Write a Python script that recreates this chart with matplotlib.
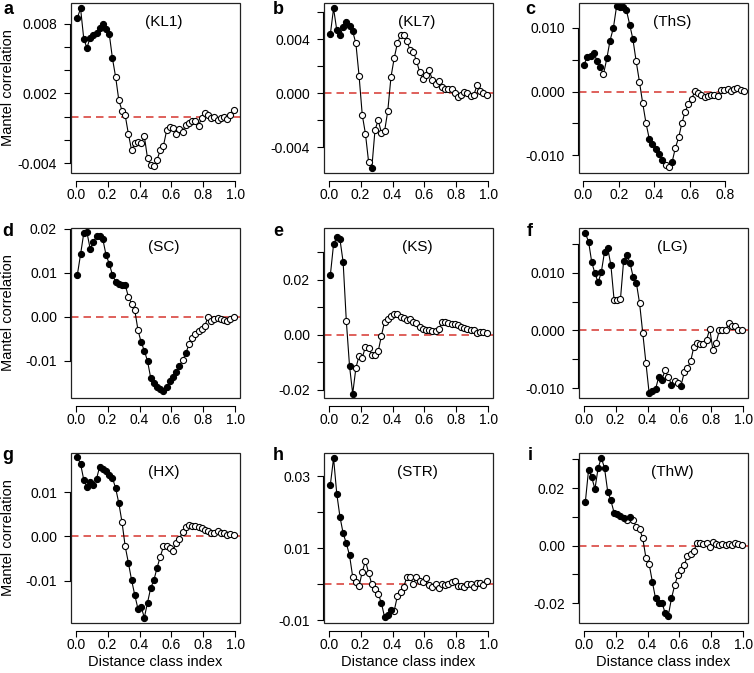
import matplotlib.pyplot as plt
from matplotlib.patches import Rectangle

plt.rcParams['font.family'] = ['Liberation Sans', 'DejaVu Sans']

# distance class index (50 classes)
DIST = [0.01, 0.03, 0.05, 0.07, 0.09, 0.11, 0.13, 0.15, 0.17, 0.19,
        0.21, 0.23, 0.25, 0.27, 0.29, 0.31, 0.33, 0.35, 0.37, 0.39,
        0.41, 0.43, 0.45, 0.47, 0.49, 0.51, 0.53, 0.55, 0.57, 0.59,
        0.61, 0.63, 0.65, 0.67, 0.69, 0.71, 0.73, 0.75, 0.77, 0.79,
        0.81, 0.83, 0.85, 0.87, 0.89, 0.91, 0.93, 0.95, 0.97, 0.99]

ths_x = [0.004, 0.022, 0.041, 0.059, 0.078, 0.096, 0.114, 0.133, 0.151, 0.170,
         0.188, 0.206, 0.225, 0.243, 0.262, 0.280, 0.298, 0.317, 0.335, 0.354,
         0.372, 0.390, 0.409, 0.427, 0.446, 0.464, 0.482, 0.501, 0.519, 0.538,
         0.556, 0.574, 0.593, 0.611, 0.630, 0.648, 0.666, 0.685, 0.703, 0.722,
         0.740, 0.758, 0.777, 0.795, 0.814, 0.832, 0.850, 0.869, 0.887, 0.906]

kl1 = [0.0085, 0.0093, 0.0067, 0.0059, 0.0068, 0.0070, 0.0072, 0.0076, 0.0080, 0.0075,
       0.0071, 0.0050, 0.0034, 0.0014, 0.0005, 0.0001, -0.0015, -0.0029, -0.0023, -0.0022,
       -0.0023, -0.0017, -0.0036, -0.0042, -0.0043, -0.0037, -0.0029, -0.0025, -0.0012, -0.0009,
       -0.0010, -0.0015, -0.0011, -0.0013, -0.0007, -0.0006, -0.0004, -0.0004, -0.0008, -0.0001,
       0.0003, 0.0001, -0.0001, 0.0000, -0.0003, -0.0001, 0.0000, -0.0002, 0.0001, 0.0006]
kl1_sig = [1, 1, 1, 1, 1, 1, 1, 1, 1, 1, 1, 1, 0, 0, 0, 0, 0, 0, 0, 0,
           0, 0, 0, 0, 0, 0, 0, 0, 0, 0, 0, 0, 0, 0, 0, 0, 0, 0, 0, 0,
           0, 0, 0, 0, 0, 0, 0, 0, 0, 0]

kl7 = [0.0044, 0.0063, 0.0047, 0.0043, 0.0049, 0.0053, 0.0050, 0.0046, 0.0037, 0.0013,
       -0.0016, -0.0030, -0.0051, -0.0055, -0.0027, -0.0020, -0.0029, -0.0028, -0.0013, 0.0012,
       0.0026, 0.0037, 0.0043, 0.0043, 0.0039, 0.0032, 0.0031, 0.0024, 0.0016, 0.0011,
       0.0014, 0.0017, 0.0010, 0.0007, 0.0009, 0.0005, 0.0003, 0.0003, 0.0003, 0.0000,
       -0.0003, -0.0001, 0.0001, 0.0000, -0.0002, -0.0001, 0.0006, 0.0002, 0.0000, -0.0001]
kl7_sig = [1, 1, 1, 1, 1, 1, 1, 1, 0, 0, 0, 0, 0, 1, 0, 0, 0, 0, 0, 0,
           0, 0, 0, 0, 0, 0, 0, 0, 0, 0, 0, 0, 0, 0, 0, 0, 0, 0, 0, 0,
           0, 0, 0, 0, 0, 0, 0, 0, 0, 0]

ths = [0.0042, 0.0054, 0.0056, 0.0061, 0.0048, 0.0038, 0.0027, 0.0052, 0.0080, 0.0100,
       0.0134, 0.0133, 0.0132, 0.0128, 0.0105, 0.0082, 0.0048, 0.0015, -0.0018, -0.0050,
       -0.0074, -0.0083, -0.0090, -0.0098, -0.0108, -0.0115, -0.0118, -0.0111, -0.0089, -0.0072,
       -0.0050, -0.0032, -0.0020, -0.0012, 0.0001, -0.0003, -0.0006, -0.0008, -0.0007, -0.0006,
       -0.0005, -0.0007, 0.0002, 0.0002, 0.0004, 0.0001, 0.0004, 0.0005, 0.0003, 0.0001]
ths_sig = [1, 1, 1, 1, 1, 1, 0, 1, 1, 1, 1, 1, 1, 1, 1, 1, 0, 0, 0, 0,
           1, 1, 1, 1, 1, 0, 0, 1, 0, 0, 0, 0, 0, 0, 0, 0, 0, 0, 0, 0,
           0, 0, 0, 0, 0, 0, 0, 0, 0, 0]

sc = [0.0096, 0.0142, 0.0190, 0.0192, 0.0155, 0.0170, 0.0183, 0.0183, 0.0176, 0.0140,
      0.0121, 0.0095, 0.0080, 0.0074, 0.0072, 0.0073, 0.0045, 0.0030, 0.0015, -0.0030,
      -0.0058, -0.0077, -0.0101, -0.0139, -0.0151, -0.0160, -0.0165, -0.0168, -0.0160, -0.0147,
      -0.0137, -0.0125, -0.0112, -0.0099, -0.0083, -0.0063, -0.0048, -0.0040, -0.0033, -0.0027,
      -0.0020, 0.0000, -0.0009, -0.0004, -0.0002, -0.0006, -0.0008, -0.0010, -0.0005, 0.0000]
sc_sig = [1, 1, 1, 1, 1, 1, 1, 1, 1, 1, 1, 1, 1, 1, 1, 1, 0, 0, 0, 0,
          1, 1, 1, 1, 1, 1, 1, 1, 1, 1, 1, 1, 1, 0, 1, 0, 0, 0, 0, 0,
          0, 0, 0, 0, 0, 0, 0, 0, 0, 0]

ks = [0.0218, 0.0330, 0.0355, 0.0348, 0.0265, 0.0050, -0.0113, -0.0215, -0.0121, -0.0077,
      -0.0084, -0.0044, -0.0050, -0.0072, -0.0075, -0.0060, -0.0004, 0.0048, 0.0058, 0.0068,
      0.0076, 0.0074, 0.0066, 0.0060, 0.0055, 0.0058, 0.0048, 0.0044, 0.0030, 0.0020,
      0.0017, 0.0016, 0.0013, 0.0012, 0.0020, 0.0046, 0.0045, 0.0043, 0.0040, 0.0038,
      0.0037, 0.0030, 0.0023, 0.0020, 0.0018, 0.0017, 0.0005, 0.0010, 0.0010, 0.0007]
ks_sig = [1, 1, 1, 1, 1, 0, 1, 1, 0, 0, 0, 0, 0, 0, 0, 0, 0, 0, 0, 0,
          0, 0, 0, 0, 0, 0, 0, 0, 0, 0, 0, 0, 0, 0, 0, 0, 0, 0, 0, 0,
          0, 0, 0, 0, 0, 0, 0, 0, 0, 0]

lg = [0.0168, 0.0154, 0.0118, 0.0099, 0.0083, 0.0101, 0.0136, 0.0143, 0.0113, 0.0053,
      0.0053, 0.0054, 0.0121, 0.0131, 0.0117, 0.0092, 0.0082, 0.0047, -0.0005, -0.0057,
      -0.0109, -0.0106, -0.0102, -0.0081, -0.0086, -0.0069, -0.0081, -0.0094, -0.0087, -0.0091,
      -0.0096, -0.0073, -0.0065, -0.0054, -0.0029, -0.0022, -0.0024, -0.0023, -0.0016, 0.0002,
      -0.0034, -0.0022, 0.0000, 0.0000, 0.0000, 0.0013, 0.0008, 0.0008, 0.0001, 0.0000]
lg_sig = [1, 1, 1, 1, 1, 1, 1, 1, 1, 0, 0, 0, 1, 1, 1, 1, 1, 0, 0, 0,
          1, 1, 1, 1, 1, 0, 0, 1, 0, 0, 1, 0, 0, 0, 0, 0, 0, 0, 0, 0,
          0, 0, 0, 0, 0, 0, 0, 0, 0, 0]

hx = [0.0179, 0.0164, 0.0128, 0.0111, 0.0124, 0.0117, 0.0130, 0.0158, 0.0152, 0.0147,
      0.0139, 0.0132, 0.0109, 0.0075, 0.0032, -0.0023, -0.0060, -0.0099, -0.0133, -0.0164,
      -0.0160, -0.0184, -0.0150, -0.0117, -0.0099, -0.0071, -0.0046, -0.0023, -0.0022, -0.0027,
      -0.0033, -0.0014, -0.0005, 0.0009, 0.0020, 0.0026, 0.0024, 0.0024, 0.0022, 0.0018,
      0.0014, 0.0012, 0.0008, 0.0007, 0.0011, 0.0007, 0.0008, 0.0003, 0.0005, 0.0002]
hx_sig = [1, 1, 1, 1, 1, 1, 1, 1, 1, 1, 1, 1, 1, 1, 0, 0, 1, 1, 1, 1,
          1, 1, 1, 1, 1, 1, 0, 0, 0, 0, 0, 0, 0, 0, 0, 0, 0, 0, 0, 0,
          0, 0, 0, 0, 0, 0, 0, 0, 0, 0]

strr = [0.0277, 0.0351, 0.0252, 0.0188, 0.0142, 0.0114, 0.0081, 0.0021, 0.0007, -0.0005,
        0.0035, 0.0065, 0.0032, 0.0000, -0.0013, -0.0026, -0.0052, -0.0091, -0.0086, -0.0070,
        -0.0074, -0.0033, -0.0021, -0.0007, 0.0021, 0.0021, 0.0002, 0.0021, 0.0009, 0.0007,
        0.0019, -0.0002, -0.0007, 0.0000, -0.0009, 0.0000, -0.0002, 0.0002, 0.0007, 0.0010,
        -0.0004, -0.0004, -0.0007, 0.0000, 0.0000, -0.0007, 0.0004, 0.0004, -0.0002, 0.0010]
strr_sig = [1, 1, 1, 1, 1, 1, 1, 0, 0, 0, 0, 0, 0, 0, 0, 0, 1, 1, 1, 1,
            0, 0, 0, 0, 0, 0, 0, 0, 0, 0, 0, 0, 0, 0, 0, 0, 0, 0, 0, 0,
            0, 0, 0, 0, 0, 0, 0, 0, 0, 0]

thw = [0.0153, 0.0264, 0.0237, 0.0197, 0.0270, 0.0305, 0.0270, 0.0188, 0.0157, 0.0115,
       0.0110, 0.0103, 0.0097, 0.0090, 0.0098, 0.0088, 0.0065, 0.0058, 0.0025, -0.0043,
       -0.0064, -0.0125, -0.0183, -0.0199, -0.0198, -0.0233, -0.0243, -0.0183, -0.0138, -0.0102,
       -0.0085, -0.0068, -0.0035, -0.0030, -0.0018, 0.0008, 0.0008, 0.0005, 0.0008, -0.0003,
       0.0012, 0.0005, 0.0002, 0.0005, 0.0003, 0.0006, 0.0002, 0.0010, 0.0005, 0.0004]
thw_sig = [1, 1, 1, 1, 1, 1, 1, 1, 1, 1, 1, 1, 1, 0, 1, 0, 0, 0, 0, 0,
           0, 1, 1, 1, 1, 1, 1, 1, 0, 0, 0, 0, 0, 0, 0, 0, 0, 0, 0, 0,
           0, 0, 0, 0, 0, 0, 0, 0, 0, 0]

# letter, site, x, r, significance, ylim, yticks, ytick labels
panels = [
    ('a', '(KL1)', DIST, kl1, kl1_sig, (-0.00486, 0.00977),
     [-0.004, -0.002, 0, 0.002, 0.004, 0.006, 0.008], ['-0.004', '', '', '0.002', '', '', '0.008']),
    ('b', '(KL7)', DIST, kl7, kl7_sig, (-0.0059, 0.0067),
     [-0.004, -0.002, 0, 0.002, 0.004, 0.006], ['-0.004', '', '0.000', '', '0.004', '']),
    ('c', '(ThS)', ths_x, ths, ths_sig, (-0.0128, 0.0139),
     [-0.01, -0.005, 0, 0.005, 0.01], ['-0.010', '', '0.000', '', '0.010']),
    ('d', '(SC)', DIST, sc, sc_sig, (-0.01848, 0.0202),
     [-0.01, 0, 0.01, 0.02], ['-0.01', '0.00', '0.01', '0.02']),
    ('e', '(KS)', DIST, ks, ks_sig, (-0.02305, 0.0389),
     [-0.02, -0.01, 0, 0.01, 0.02, 0.03], ['-0.02', '', '0.00', '', '0.02', '']),
    ('f', '(LG)', DIST, lg, lg_sig, (-0.01173, 0.01775),
     [-0.01, -0.005, 0, 0.005, 0.01, 0.015], ['-0.010', '', '0.000', '', '0.010', '']),
    ('g', '(HX)', DIST, hx, hx_sig, (-0.01962, 0.01886),
     [-0.01, 0, 0.01], ['-0.01', '0.00', '0.01']),
    ('h', '(STR)', DIST, strr, strr_sig, (-0.01074, 0.0365),
     [-0.01, 0, 0.01, 0.02, 0.03], ['-0.01', '', '0.01', '', '0.03']),
    ('i', '(ThW)', DIST, thw, thw_sig, (-0.02686, 0.0322),
     [-0.02, -0.01, 0, 0.01, 0.02, 0.03], ['-0.02', '', '0.00', '', '0.02', '']),
]

W, H = 754, 673
fig = plt.figure(figsize=(W / 100, H / 100), dpi=100)

col_left = [71, 324, 579]
row_top = [3, 228, 453]
aw, ah = 169, 170

for n, (letter, site, x, r, sig, ylim, yt, ytl) in enumerate(panels):
    row, col = divmod(n, 3)
    l, t = col_left[col], row_top[row]
    ax = fig.add_axes([l / W, 1 - (t + ah) / H, aw / W, ah / H])

    ax.axhline(0, color='#d9453f', lw=1.2, ls=(0, (4.5, 3)), zorder=1)
    ax.plot(x, r, color='black', lw=0.8, zorder=2)
    xf = [a for a, s in zip(x, sig) if s]
    yf = [b for b, s in zip(r, sig) if s]
    xo = [a for a, s in zip(x, sig) if not s]
    yo = [b for b, s in zip(r, sig) if not s]
    ax.plot(xo, yo, 'o', ms=4.4, mfc='white', mec='black', mew=0.8, zorder=3)
    ax.plot(xf, yf, 'o', ms=4.4, mfc='black', mec='black', mew=0.8, zorder=4)

    if letter == 'c':
        ax.set_xlim(-0.024, 0.929)
        xt = [0, 0.2, 0.4, 0.6, 0.8]
    else:
        ax.set_xlim(-0.03, 1.03)
        xt = [0, 0.2, 0.4, 0.6, 0.8, 1.0]
    ax.set_ylim(*ylim)
    ax.set_xticks(xt)
    ax.set_xticklabels(['%.1f' % v for v in xt])
    ax.set_yticks(yt)
    ax.set_yticklabels(ytl)

    # R-style axes: detached x axis, box drawn separately
    for s in ('top', 'right'):
        ax.spines[s].set_visible(False)
    ax.spines['bottom'].set_position(('outward', 6))
    ax.spines['bottom'].set_bounds(xt[0], xt[-1])
    ax.spines['left'].set_position(('outward', 1))
    ax.spines['left'].set_bounds(yt[0], yt[-1])
    for s in ('bottom', 'left'):
        ax.spines[s].set_linewidth(0.8)
    ax.add_patch(Rectangle((0, 0), 1, 1, transform=ax.transAxes, fill=False,
                           lw=0.9, edgecolor='#222222', clip_on=False, zorder=6))
    ax.tick_params(axis='both', length=4, width=0.8, labelsize=10)
    ax.tick_params(axis='x', pad=1)
    ax.tick_params(axis='y', pad=5)

    ax.text(0.55, 0.89, site, transform=ax.transAxes, ha='center', va='center', fontsize=11)

    lx = [8, 278, 530][col]
    ly = [10, 232, 456][row]
    fig.text(lx / W, 1 - ly / H, letter, ha='center', va='center', fontsize=13, fontweight='bold')

    if col == 0:
        fig.text(8 / W, 1 - (t + ah / 2) / H, 'Mantel correlation', rotation=90,
                 ha='center', va='center', fontsize=10.5)
    if row == 2:
        fig.text((l + aw / 2) / W, 1 - 662 / H, 'Distance class index',
                 ha='center', va='center', fontsize=10.5)

fig.savefig('out.png', dpi=100)
